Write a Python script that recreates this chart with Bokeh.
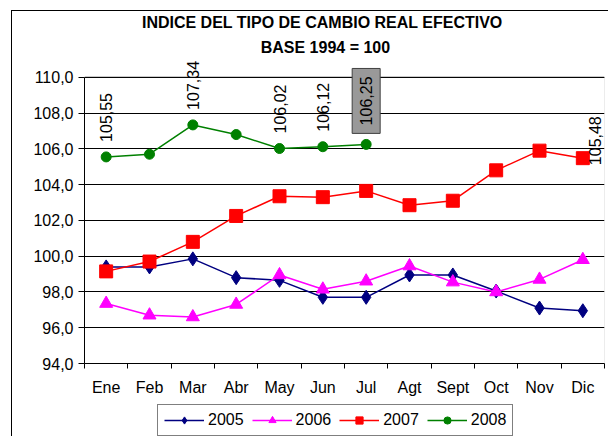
import math
from bokeh.plotting import figure
from bokeh.layouts import column
from bokeh.models import (FixedTicker, Label, Legend, LegendItem, Range1d, BoxAnnotation, Span)
from bokeh.embed import file_html
from bokeh.resources import INLINE

months = ["Ene", "Feb", "Mar", "Abr", "May", "Jun", "Jul", "Agt", "Sept", "Oct", "Nov", "Dic"]
v2005 = [99.40, 99.40, 99.85, 98.80, 98.65, 97.70, 97.70, 98.95, 98.95, 98.05, 97.10, 96.95]
v2006 = [97.35, 96.70, 96.60, 97.30, 98.95, 98.15, 98.60, 99.45, 98.55, 98.00, 98.70, 99.80]
v2007 = [99.15, 99.70, 100.80, 102.25, 103.35, 103.30, 103.65, 102.85, 103.10, 104.80, 105.90, 105.48]
v2008 = [105.55, 105.70, 107.34, 106.80, 106.02, 106.12, 106.25]
y_ticks = [94, 96, 98, 100, 102, 104, 106, 108, 110]
series_names = ["2005", "2006", "2007", "2008"]
title1 = "INDICE DEL TIPO DE CAMBIO REAL EFECTIVO"
title2 = "BASE 1994 = 100"
labeled_2008 = [0, 2, 4, 5, 6]
boxed_2008 = [6]
labeled_2007 = [11]

FONT = "Liberation Sans"
xs = list(range(1, len(months) + 1))
y_lo, y_hi = y_ticks[0], y_ticks[-1]

# main plot: frame reaches the top of the canvas so the titles and labels are not clipped
p = figure(width=596, height=387, output_backend="svg", toolbar_location=None,
           x_range=Range1d(0.5, 12.5), y_range=Range1d(y_lo, 113.68),
           min_border_left=72, min_border_right=4, min_border_top=0, min_border_bottom=34)
p.background_fill_color = "white"
p.border_fill_color = "white"
p.outline_line_color = None

# x axis
xt = FixedTicker(ticks=xs, minor_ticks=[i + 0.5 for i in range(0, 13)])
p.xaxis.ticker = xt
p.xaxis.major_label_overrides = {x: m for x, m in zip(xs, months)}
p.xaxis.major_tick_out = 0
p.xaxis.major_tick_in = 0
p.xaxis.minor_tick_out = 5
p.xaxis.minor_tick_in = 0
p.xaxis.minor_tick_line_color = "black"
p.xaxis.axis_line_color = "black"
p.xaxis.major_label_standoff = 10
p.xaxis.major_label_text_font = FONT
p.xaxis.major_label_text_font_size = "16px"
p.xaxis.major_label_text_color = "black"

# y axis
yt = FixedTicker(ticks=y_ticks, minor_ticks=[])
p.yaxis.ticker = yt
p.yaxis.bounds = (y_lo, y_hi)
p.yaxis.major_label_overrides = {t: f"{t:.1f}".replace(".", ",") for t in y_ticks}
p.yaxis.major_tick_out = 6
p.yaxis.major_tick_in = 0
p.yaxis.major_tick_line_color = "black"
p.yaxis.minor_tick_line_color = None
p.yaxis.axis_line_color = "black"
p.yaxis.major_label_standoff = 5
p.yaxis.major_label_text_font = FONT
p.yaxis.major_label_text_font_size = "16px"
p.yaxis.major_label_text_color = "black"

p.xgrid.visible = False
p.ygrid.ticker = yt
p.ygrid.grid_line_color = "black"
p.ygrid.grid_line_width = 1

# plot-area border (grey) and its black top line
p.add_layout(BoxAnnotation(left=0.5, right=12.5, bottom=y_lo, top=y_hi, level="underlay",
                           fill_color=None, fill_alpha=0, line_color="#808080", line_width=1))
p.add_layout(Span(location=y_hi, dimension="width", line_color="black", line_width=1))

# series
colors = ["#000080", "#FF00FF", "#FF0000", "#008000"]
markers = ["diamond", "triangle", "square", "circle"]
msizes = [14, 13, 13, 10]
x08 = xs[:len(v2008)]
series_x = [xs, xs, xs, x08]
series_y = [v2005, v2006, v2007, v2008]
for sx, sy, c, mk, ms in zip(series_x, series_y, colors, markers, msizes):
    p.line(sx, sy, color=c, line_width=1.5)
    p.scatter(sx, sy, marker=mk, size=ms, color=c)

def fmt(v):
    return f"{v:.2f}".replace(".", ",")

for i in labeled_2008:
    if i in boxed_2008:
        p.add_layout(Label(x=x08[i], y=v2008[i], text=fmt(v2008[i]), angle=math.pi / 2,
                           y_offset=11, text_align="left", text_baseline="middle",
                           text_font=FONT, text_font_size="16px", text_color="black",
                           background_fill_color="#999999", border_line_color="#404040",
                           padding=dict(left=8, right=8, top=8, bottom=8)))
    else:
        p.add_layout(Label(x=x08[i], y=v2008[i], text=fmt(v2008[i]), angle=math.pi / 2,
                           y_offset=15, text_align="left", text_baseline="middle",
                           text_font=FONT, text_font_size="16px", text_color="black"))
for i in labeled_2007:
    p.add_layout(Label(x=xs[i], y=v2007[i], text=fmt(v2007[i]), angle=math.pi / 2,
                       x_offset=12, y_offset=-7, text_align="left", text_baseline="middle",
                       text_font=FONT, text_font_size="16px", text_color="black"))

# titles
p.add_layout(Label(x=5.99, y=113.07, text=title1,
                   text_align="center", text_baseline="middle", text_font=FONT,
                   text_font_size="16px", text_font_style="bold", text_color="black"))
p.add_layout(Label(x=6.06, y=111.67, text=title2,
                   text_align="center", text_baseline="middle", text_font=FONT,
                   text_font_size="16px", text_font_style="bold", text_color="black"))

# legend strip below the chart (its own off-view copies of the series feed the legend);
# its frame is aligned with the main plot's frame by the column layout
q = figure(width=596, height=38, output_backend="svg", toolbar_location=None,
           x_range=Range1d(-10, -9), y_range=Range1d(-10, -9),
           min_border_left=72, min_border_right=4, min_border_top=0, min_border_bottom=0)
q.axis.visible = False
q.grid.visible = False
q.outline_line_color = None
q.background_fill_color = "white"
q.border_fill_color = "white"
items = []
for name, sx, sy, c, mk, ms in zip(series_names, series_x, series_y, colors, markers, msizes):
    ln = q.line(sx, sy, color=c, line_width=1.5)
    sc = q.scatter(sx, sy, marker=mk, size=ms, color=c)
    items.append(LegendItem(label=name, renderers=[ln, sc]))
legend = Legend(items=items, orientation="horizontal", location=(73, 0))
legend.label_text_font = FONT
legend.label_text_font_size = "16px"
legend.label_text_color = "black"
legend.glyph_width = 40
legend.glyph_height = 18
legend.label_height = 18
legend.label_standoff = 4
legend.spacing = 8
legend.padding = 6
legend.margin = 0
legend.border_line_color = "black"
legend.border_line_width = 1
legend.background_fill_color = "white"
q.add_layout(legend, "center")

layout = column(p, q, spacing=0, margin=(10, 0, 0, 11),
                styles={"border-left": "1px solid black", "border-top": "1px solid black"})

open("out.html", "w").write(file_html(layout, INLINE))
